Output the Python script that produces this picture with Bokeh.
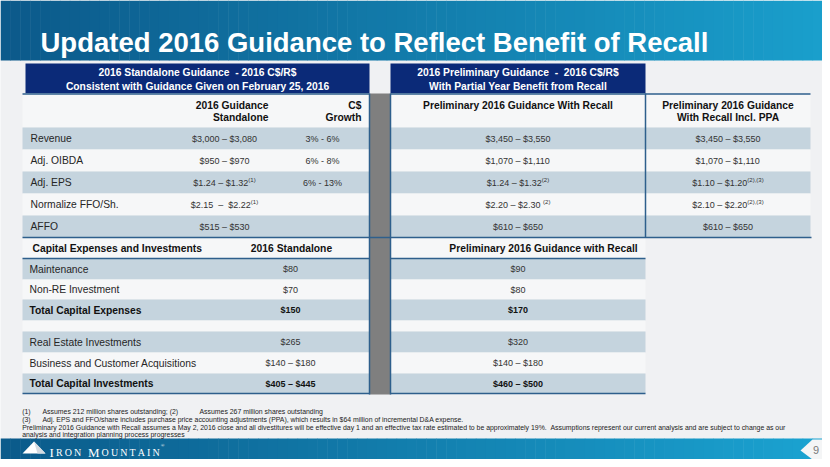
import numpy as np
from bokeh.plotting import figure
from bokeh.models import Range1d
from bokeh.core.properties import value
from bokeh.embed import file_html
from bokeh.resources import INLINE

# ---------------- data ----------------
title = "Updated 2016 Guidance to Reflect Benefit of Recall"
hdr_left = ["2016 Standalone Guidance  - 2016 C$/R$", "Consistent with Guidance Given on February 25, 2016"]
hdr_mid = ["2016 Preliminary Guidance  -  2016 C$/R$", "With Partial Year Benefit from Recall"]
col_guid = ["2016 Guidance", "Standalone"]
col_growth = ["C$", "Growth"]
col_recall = ["Preliminary 2016 Guidance With Recall"]
col_ppa = ["Preliminary 2016 Guidance", "With Recall Incl. PPA"]

metrics = ["Revenue", "Adj. OIBDA", "Adj. EPS", "Normalize FFO/Sh.", "AFFO"]
standalone = ["$3,000 – $3,080", "$950 – $970", "$1.24 – $1.32", "$2.15  –  $2.22", "$515 – $530"]
standalone_sup = ["", "", "(1)", "(1)", ""]
growth = ["3% - 6%", "6% - 8%", "6% - 13%", "", ""]
recall = ["$3,450 – $3,550", "$1,070 – $1,110", "$1.24 – $1.32", "$2.20 – $2.30 ", "$610 – $650"]
recall_sup = ["", "", "(2)", "(2)", ""]
ppa = ["$3,450 – $3,550", "$1,070 – $1,110", "$1.10 – $1.20", "$2.10 – $2.20", "$610 – $650"]
ppa_sup = ["", "", "(2),(3)", "(2),(3)", ""]

capex_header = ["Capital Expenses and Investments", "2016 Standalone", "Preliminary 2016 Guidance with Recall"]
capex_items = ["Maintenance", "Non-RE Investment", "Total Capital Expenses", "",
               "Real Estate Investments", "Business and Customer Acquisitions", "Total Capital Investments"]
capex_standalone = ["$80", "$70", "$150", "", "$265", "$140 – $180", "$405 – $445"]
capex_recall = ["$90", "$80", "$170", "", "$320", "$140 – $180", "$460 – $500"]
capex_bold = [False, False, True, False, False, False, True]

footnotes = [
    ("(1)", "Assumes 212 million shares outstanding; (2)", "Assumes 267 million shares outstanding"),
    ("(3)", "Adj. EPS and FFO/share includes purchase price accounting adjustments (PPA), which results in $64 million of incremental D&A expense.", ""),
]
note_lines = [
    "Preliminary 2016 Guidance with Recall assumes a May 2, 2016 close and all divestitures will be effective day 1 and an effective tax rate estimated to be approximately 19%.  Assumptions represent our current analysis and are subject to change as our",
    "analysis and integration planning process progresses",
]
brand = "IRON MOUNTAIN"
page_no = "9"

# ---------------- styling / layout ----------------
FONT = value("Liberation Sans")
NAVY = "#0b2a78"
BAND = "#c5d4de"
WHITE_ROW = "#f6f7f8"
LINE = "#2e5f8c"
GRAY = "#7f7f7f"
BG = "#f0f1f3"
W, H = 822, 459

p = figure(width=W, height=H, x_range=Range1d(0, W), y_range=Range1d(H, 0),
           output_backend="svg", toolbar_location=None, min_border=0)
p.axis.visible = False
p.grid.visible = False
p.outline_line_color = None
p.background_fill_color = BG
p.border_fill_color = BG


def keep_spaces(s):
    return s.replace("  ", " \u00a0")


def txt(xs, ys, texts, size, bold=False, color="#2b2b2b", align="left", baseline="middle", font=FONT):
    p.text(x=list(xs), y=list(ys), text=[keep_spaces(t) for t in texts], text_font=font, text_font_size=size,
           text_font_style="bold" if bold else "normal", text_color=color,
           text_align=align, text_baseline=baseline)


def gradient_band(y0, y1, c0, c1, n=83):
    edges = np.linspace(0, W, n + 1)
    a = np.array([int(c0[i:i + 2], 16) for i in (1, 3, 5)])
    b = np.array([int(c1[i:i + 2], 16) for i in (1, 3, 5)])
    cols = []
    for t in np.linspace(0, 1, n):
        c = (a + (b - a) * t).astype(int)
        cols.append("#%02x%02x%02x" % tuple(c))
    p.quad(left=edges[:-1], right=edges[1:] + 0.5, top=y0, bottom=y1, fill_color=cols, line_color=None)


# banners
gradient_band(0, 60, "#0c5a8b", "#1a9fcc")
gradient_band(438, H, "#0b5b8b", "#1ba3d1")

# title
txt([40], [42], [title], "27.5px", bold=True, color="white", baseline="alphabetic")

# navy headers
p.quad(left=[25, 390], right=[369, 645], top=[63, 63], bottom=[93, 93], fill_color=NAVY, line_color=None)
txt([197, 197], [72, 86], hdr_left, "10.3px", bold=True, color="white", align="center")
txt([517.5, 517.5], [72, 86], hdr_mid, "10.3px", bold=True, color="white", align="center")

# column header row
p.quad(left=[22, 390, 645], right=[369, 645, 810], top=93, bottom=127, fill_color=WHITE_ROW, line_color=None)
txt([268, 268], [105, 117], col_guid, "10.3px", bold=True, color="#111111", align="right")
txt([361, 361], [105, 117], col_growth, "10.3px", bold=True, color="#111111", align="right")
txt([517.5], [105], col_recall, "10.3px", bold=True, color="#111111", align="center")
txt([727.5, 727.5], [105, 117], col_ppa, "10.3px", bold=True, color="#111111", align="center")

# metric rows
ROW0, RH = 127, 22
tops = [ROW0 + i * RH for i in range(len(metrics))]
cy = [t + RH / 2 for t in tops]
fills = [BAND if i % 2 == 0 else WHITE_ROW for i in range(len(metrics))]
for l, r in [(22, 369), (390, 645), (645, 810)]:
    p.quad(left=l, right=r, top=tops, bottom=[t + RH for t in tops], fill_color=fills, line_color=None)

AW = {'$': .556, ',': .278, '.': .278, ' ': .278, '–': .556, '-': .333, '%': .889, '(': .333, ')': .333}


def tw(s, size):
    return sum(AW.get(ch, .556) for ch in s) * size


def value_col(center, mains, sups, ys, size=9, sup_size=6, bold=False, color="#333333"):
    xs, xs2, ys2, ss = [], [], [], []
    for m, s, y in zip(mains, sups, ys):
        wm, wsu = tw(m, size), tw(s, sup_size)
        x0 = center - (wm + wsu) / 2
        xs.append(x0)
        if s:
            xs2.append(x0 + wm)
            ys2.append(y - 2.5)
            ss.append(s)
    txt(xs, ys, mains, "%gpx" % size, bold=bold, color=color)
    if ss:
        txt(xs2, ys2, ss, "%gpx" % sup_size, color=color)


txt([30] * len(metrics), cy, metrics, "10.3px", color="#262626")
value_col(224, standalone, standalone_sup, cy)
txt([322] * len(growth), cy, growth, "9px", color="#333333", align="center")
value_col(517.5, recall, recall_sup, cy)
value_col(727.5, ppa, ppa_sup, cy)

# capex section
CAP_TOP = ROW0 + RH * len(metrics)     # 237
CAP_HDR = 21
cap_h = [21, 20, 21, 11, 21, 21, 20]
ctops = list(CAP_TOP + CAP_HDR + np.concatenate([[0], np.cumsum(cap_h)[:-1]]))
cbot = [t + h for t, h in zip(ctops, cap_h)]
ccy = [t + h / 2 for t, h in zip(ctops, cap_h)]
cfills = [BAND if i % 2 == 0 else WHITE_ROW for i in range(len(capex_items))]
p.quad(left=[22, 390], right=[369, 645], top=CAP_TOP, bottom=CAP_TOP + CAP_HDR, fill_color=WHITE_ROW, line_color=None)
for l, r in [(22, 369), (390, 645)]:
    p.quad(left=l, right=r, top=ctops, bottom=cbot, fill_color=cfills, line_color=None)

hy = CAP_TOP + CAP_HDR / 2
txt([32], [hy], capex_header[:1], "10.3px", bold=True, color="#111111")
txt([291], [hy], capex_header[1:2], "10.3px", bold=True, color="#111111", align="center")
txt([543], [hy], capex_header[2:], "10.3px", bold=True, color="#111111", align="center")

for bold in (False, True):
    idx = [i for i, b in enumerate(capex_bold) if b == bold and capex_items[i]]
    txt([29] * len(idx), [ccy[i] for i in idx], [capex_items[i] for i in idx], "10.3px", bold=bold,
        color="#111111" if bold else "#262626")
    txt([290] * len(idx), [ccy[i] for i in idx], [capex_standalone[i] for i in idx], "9px", bold=bold,
        color="#111111" if bold else "#333333", align="center")
    txt([517.5] * len(idx), [ccy[i] for i in idx], [capex_recall[i] for i in idx], "9px", bold=bold,
        color="#111111" if bold else "#333333", align="center")

END = cbot[-1]

# gray separator
p.quad(left=[369], right=[390], top=[93], bottom=[END + 1], fill_color=GRAY, line_color=None)

# lines
p.segment(x0=[22, 390, 22, 22, 390, 22, 390, 369, 390, 645],
          y0=[93.5, 93.5, CAP_TOP, CAP_TOP + CAP_HDR, CAP_TOP + CAP_HDR, END, END, 93, 93, 93],
          x1=[369, 810, 811, 369, 645, 369, 645, 369, 390, 645],
          y1=[93.5, 93.5, CAP_TOP, CAP_TOP + CAP_HDR, CAP_TOP + CAP_HDR, END, END, END + 1, END + 1, CAP_TOP],
          line_color=LINE, line_width=1.5)

# footnotes
FN = "6.9px"
fy = [410.7, 419.3]
txt([21.7] * 2, fy, [f[0] for f in footnotes], FN, color="#222222")
txt([42] * 2, fy, [f[1] for f in footnotes], FN, color="#222222")
txt([199], [fy[0]], [footnotes[0][2]], FN, color="#222222")
txt([21.7] * 2, [427.3, 434.0], note_lines, FN, color="#222222")

# logo
p.patch(x=[22, 33.5, 45], y=[453, 441, 453], fill_color="white", line_color=None)
p.patch(x=[33.5, 45, 37], y=[441, 453, 453], fill_color="#d5dbe1", line_color=None)
SW = {'I': .333, 'R': .667, 'O': .722, 'N': .722, ' ': .25, 'M': .889, 'U': .722, 'T': .611, 'A': .722}
BIG, SMALL = 13, 10
bx, bxs, bch, bsz = 49.0, [], [], []
for k, ch in enumerate(brand):
    big = (k == 0) or (brand[k - 1] == " ")
    size = BIG if big else SMALL
    bxs.append(bx)
    bch.append(ch)
    bsz.append(size)
    bx += SW[ch] * size + 2.1
for size in (BIG, SMALL):
    ii = [i for i in range(len(bch)) if bsz[i] == size and bch[i] != " "]
    txt([bxs[i] for i in ii], [452] * len(ii), [bch[i] for i in ii], "%gpx" % size, color="white",
        baseline="alphabetic", font=value("Liberation Serif"))
txt([bx - 1], [445], ["®"], "5px", color="white", font=value("Liberation Serif"))

# page tab
p.patch(x=[W, 812, 800, 812, W], y=[439, 439, 450, 459, 459], fill_color="#f4f5f6", line_color=None)
txt([815.5], [449], [page_no], "11px", color="#7a7a7a", align="center")

open("out.html", "w").write(file_html(p, INLINE))
